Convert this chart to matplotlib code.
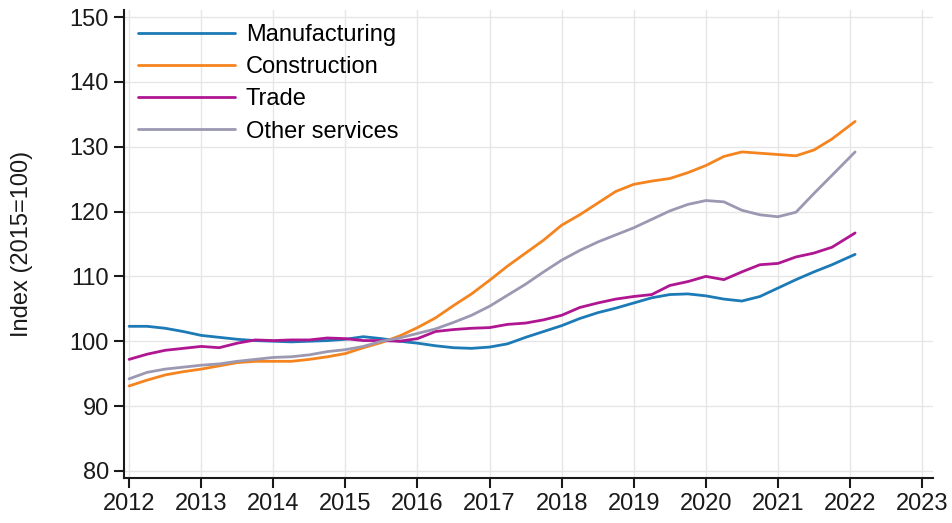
#!/usr/bin/env python3
"""Index of four sectors, 2012-2022 (2015=100)."""

import matplotlib

matplotlib.use("Agg")
import matplotlib.pyplot as plt

plt.rcParams.update(
    {
        "font.family": ["Liberation Sans", "DejaVu Sans"],
        "font.size": 17,
    }
)

# quarterly readings, last point early 2022
YEARS = [
    2012.0, 2012.25, 2012.5, 2012.75, 2013.0, 2013.25, 2013.5, 2013.75,
    2014.0, 2014.25, 2014.5, 2014.75, 2015.0, 2015.25, 2015.5, 2015.75,
    2016.0, 2016.25, 2016.5, 2016.75, 2017.0, 2017.25, 2017.5, 2017.75,
    2018.0, 2018.25, 2018.5, 2018.75, 2019.0, 2019.25, 2019.5, 2019.75,
    2020.0, 2020.25, 2020.5, 2020.75, 2021.0, 2021.25, 2021.5, 2021.75,
    2022.07,
]

MANUFACTURING = [
    102.3, 102.3, 102.0, 101.5, 100.9, 100.6, 100.3, 100.1,
    100.0, 99.9, 100.0, 100.1, 100.3, 100.7, 100.4, 100.0,
    99.7, 99.3, 99.0, 98.9, 99.1, 99.6, 100.6, 101.5,
    102.4, 103.5, 104.4, 105.1, 105.9, 106.7, 107.2, 107.3,
    107.0, 106.5, 106.2, 106.9, 108.2, 109.5, 110.7, 111.8,
    113.4,
]

CONSTRUCTION = [
    93.1, 94.0, 94.8, 95.3, 95.7, 96.2, 96.7, 96.9,
    96.9, 96.9, 97.2, 97.6, 98.1, 99.0, 99.8, 100.8,
    102.1, 103.6, 105.5, 107.3, 109.4, 111.6, 113.6, 115.6,
    117.9, 119.5, 121.3, 123.1, 124.2, 124.7, 125.1, 126.0,
    127.1, 128.5, 129.2, 129.0, 128.8, 128.6, 129.5, 131.2,
    133.9,
]

TRADE = [
    97.2, 98.0, 98.6, 98.9, 99.2, 99.0, 99.7, 100.2,
    100.1, 100.2, 100.2, 100.5, 100.4, 100.1, 100.1, 100.0,
    100.4, 101.5, 101.8, 102.0, 102.1, 102.6, 102.8, 103.3,
    104.0, 105.2, 105.9, 106.5, 106.9, 107.2, 108.6, 109.2,
    110.0, 109.5, 110.7, 111.8, 112.0, 113.0, 113.6, 114.5,
    116.7,
]

OTHER_SERVICES = [
    94.2, 95.2, 95.7, 96.0, 96.3, 96.5, 96.9, 97.2,
    97.5, 97.6, 97.9, 98.4, 98.7, 99.2, 100.0, 100.5,
    101.2, 101.9, 102.9, 104.0, 105.4, 107.1, 108.8, 110.7,
    112.5, 114.0, 115.3, 116.4, 117.5, 118.8, 120.1, 121.1,
    121.7, 121.5, 120.2, 119.5, 119.2, 119.9, 122.8, 125.6,
    129.2,
]

LABELS = ["Manufacturing", "Construction", "Trade", "Other services"]
COLORS = ["#1C7AB6", "#F5841F", "#B01592", "#9B98B2"]

X_TICKS = list(range(2012, 2024))
Y_TICKS = [80, 90, 100, 110, 120, 130, 140, 150]


def main() -> None:
    fig = plt.figure(figsize=(9.52, 5.23), dpi=100)
    ax = fig.add_axes([0.1303, 0.086, 0.8497, 0.895])

    for values, label, color in zip(
        [MANUFACTURING, CONSTRUCTION, TRADE, OTHER_SERVICES], LABELS, COLORS
    ):
        ax.plot(YEARS, values, color=color, linewidth=2.0, label=label,
                solid_capstyle="round", solid_joinstyle="round")

    ax.set_xlim(2011.93, 2023.15)
    ax.set_ylim(78.9, 151.1)
    ax.set_xticks(X_TICKS)
    ax.set_xticklabels([str(y) for y in X_TICKS])
    ax.set_yticks(Y_TICKS)

    ax.grid(True, color="#E6E6E6", linewidth=1.0)
    ax.set_axisbelow(True)
    for side in ("top", "right"):
        ax.spines[side].set_visible(False)
    for side in ("left", "bottom"):
        ax.spines[side].set_linewidth(1.5)
        ax.spines[side].set_color("#1A1A1A")
    ax.tick_params(direction="out", length=7.5, width=1.5, color="#1A1A1A",
                   labelcolor="#1A1A1A", pad=3.5)

    ax.set_ylabel("Index (2015=100)", color="#1A1A1A")
    ax.yaxis.set_label_coords(-0.113, 0.5)

    ax.legend(
        loc="upper left",
        bbox_to_anchor=(0.0, 1.0),
        frameon=False,
        handlelength=4.1,
        handletextpad=0.45,
        labelspacing=0.43,
        borderpad=0.3,
        borderaxespad=0.3,
        fontsize=17,
    )

    fig.savefig("out.png", dpi=100)
    plt.close(fig)


if __name__ == "__main__":
    main()
